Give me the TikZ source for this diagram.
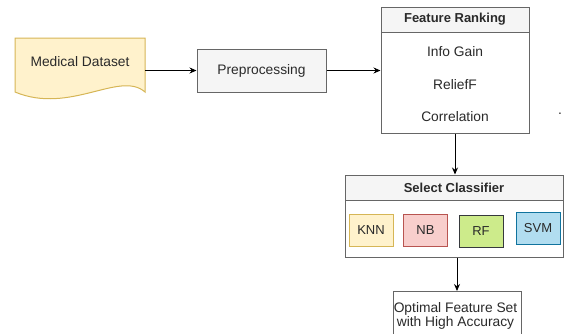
\documentclass[tikz,border=0pt]{standalone}
\usepackage{fontspec}
\setmainfont{Liberation Sans}
\usetikzlibrary{arrows.meta}
\definecolor{txt}{HTML}{2A2A2A}
\definecolor{gborder}{HTML}{666666}
\definecolor{gfill}{HTML}{F5F5F5}
\definecolor{yfill}{HTML}{FFF2CC}
\definecolor{yline}{HTML}{D6B656}
\definecolor{rfill}{HTML}{F8CECC}
\definecolor{rline}{HTML}{B85450}
\definecolor{gnfill}{HTML}{CDEB8B}
\definecolor{gnline}{HTML}{36393D}
\definecolor{bfill}{HTML}{B1DDF0}
\definecolor{bline}{HTML}{10739E}
\tikzset{
  lbl/.style={text=txt, font=\fontsize{13.8}{16}\selectfont, inner sep=0pt},
  hdr/.style={text=txt, font=\fontsize{13}{16}\selectfont\bfseries, inner sep=0pt},
  graybox/.style={draw=gborder, fill=gfill, line width=1pt, inner sep=0pt},
  whitebox/.style={draw=gborder, fill=white, line width=1pt, inner sep=0pt},
  clsbox/.style={line width=1pt, minimum width=44pt, minimum height=32pt, inner sep=0pt, text=txt, font=\fontsize{13}{16}\selectfont},
  arr/.style={draw=black, line width=1pt, -{Stealth[length=7pt,width=6pt]}}
}
\begin{document}
\begin{tikzpicture}[x=1pt,y=-1pt]
\useasboundingbox (0,0) rectangle (565,333);
% Medical dataset (document shape)
\draw[fill=yfill, draw=yline, line width=1pt]
  (15,38) -- (145,38) -- (145,92) .. controls (120,70) and (70,115) .. (15,92) -- cycle;
\node[lbl] (med) at (80,62) {Medical Dataset};
\coordinate (medR) at (145,70.5);
% Preprocessing
\node[graybox, minimum width=129pt, minimum height=43pt] (pre) at (261.5,70.5) {};
\node[lbl] (pretxt) at (pre.center) {Preprocessing};
% Feature ranking
\node[whitebox, minimum width=148pt, minimum height=126pt] (fr) at (455,70) {};
\node[graybox, minimum width=148pt, minimum height=25pt, anchor=north] (frh) at (fr.north) {};
\node[hdr] (frt) at (frh.center) {Feature Ranking};
\node[lbl] (ig) at (455,52) {Info Gain};
\node[lbl] (rf1) at (455,85) {ReliefF};
\node[lbl] (cor) at (455,117) {Correlation};
\node[lbl] (dot) at (560,114) {.};
% Select classifier
\node[whitebox, minimum width=218pt, minimum height=82pt] (sc) at (454,216) {};
\node[graybox, minimum width=218pt, minimum height=25pt, anchor=north] (sch) at (sc.north) {};
\node[hdr] (sct) at (sch.center) {Select Classifier};
\node[clsbox, draw=yline, fill=yfill] (knn) at (371,230) {KNN};
\node[clsbox, draw=rline, fill=rfill] (nb) at (425.5,230) {NB};
\node[clsbox, draw=gnline, fill=gnfill] (rf) at (481,231) {RF};
\node[clsbox, draw=bline, fill=bfill] (svm) at (538,228.5) {\raisebox{2pt}{SVM}};
% Optimal feature set
\node[whitebox, minimum width=128pt, minimum height=56pt, anchor=north] (opt) at (457,291) {};
\node[lbl] (o1) at (455.5,309) {Optimal Feature Set};
\node[lbl] (o2) at (455.5,323) {with High Accuracy};
% connectors
\draw[arr] (medR) -- (medR -| pre.west);
\draw[arr] (pre.east) -- (pre.east -| fr.west);
\draw[arr] (fr.south) -- (fr.south |- sc.north);
\draw[arr] (opt.north |- sc.south) -- (opt.north);
\end{tikzpicture}
\end{document}
